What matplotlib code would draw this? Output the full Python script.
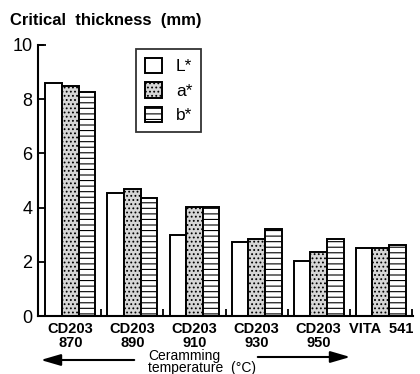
import numpy as np
import matplotlib
matplotlib.use('Agg')
import matplotlib.pyplot as plt

plt.rcParams['font.family'] = ['Liberation Sans', 'DejaVu Sans']
plt.rcParams['hatch.linewidth'] = 0.8

groups = ['CD203\n870', 'CD203\n890', 'CD203\n910', 'CD203\n930', 'CD203\n950', 'VITA  541']
L_star = [8.6, 4.55, 3.0, 2.73, 2.03, 2.5]
a_star = [8.5, 4.7, 4.03, 2.84, 2.36, 2.5]
b_star = [8.25, 4.35, 4.03, 3.2, 2.84, 2.63]

fig = plt.figure(figsize=(4.2, 3.74), dpi=100)
ax = fig.add_axes([0.0905, 0.155, 0.893, 0.725])

x = np.arange(len(groups))
w = 0.268
kw = dict(width=w, edgecolor='black', linewidth=1.4)
ax.bar(x - w, L_star, facecolor='white', label='L*', **kw)
ax.bar(x, a_star, facecolor='#d6d6d6', hatch='....', label='a*', **kw)
ax.bar(x + w, b_star, facecolor='white', hatch='---', label='b*', **kw)

ax.set_xlim(-0.52, 5.52)
ax.set_ylim(0, 10)
ax.set_yticks([0, 2, 4, 6, 8, 10])
ax.tick_params(axis='y', direction='in', length=6, width=1.3, labelsize=13, pad=4)
ax.set_xticks(x)
ax.set_xticklabels(groups, fontsize=10.5, fontweight='bold', linespacing=1.0)
ax.tick_params(axis='x', length=0, pad=4)
ax.set_xticks(x + 0.5, minor=True)
ax.tick_params(axis='x', which='minor', direction='in', length=5, width=1.3)

for s in ['top', 'right']:
    ax.spines[s].set_visible(False)
for s in ['left', 'bottom']:
    ax.spines[s].set_linewidth(1.5)
# small tick at top of y axis
ax.plot([-0.52, -0.44], [10, 10], color='black', lw=1.3, clip_on=False)

leg = ax.legend(loc='upper left', bbox_to_anchor=(0.261, 0.985), borderaxespad=0,
                fancybox=False, edgecolor='black', fontsize=12.5, handlelength=1.0,
                handleheight=1.0, handletextpad=0.8, labelspacing=0.45, borderpad=0.5)
leg.get_frame().set_linewidth(1.3)

fig.text(10 / 420, 1 - 20 / 374, 'Critical  thickness  (mm)', fontsize=12,
         fontweight='bold', va='center', ha='left')

ax.annotate('', xy=(38, 14), xytext=(137, 14), xycoords='figure pixels',
            textcoords='figure pixels',
            arrowprops=dict(arrowstyle='-|>,head_length=1.2,head_width=0.35',
                            color='black', lw=1.5))
ax.annotate('', xy=(353, 17), xytext=(255, 17), xycoords='figure pixels',
            textcoords='figure pixels',
            arrowprops=dict(arrowstyle='-|>,head_length=1.2,head_width=0.35',
                            color='black', lw=1.5))
fig.text(148 / 420, 1 - 349 / 374, 'Ceramming\ntemperature  (°C)', fontsize=10,
         ha='left', va='top', linespacing=0.85)

fig.savefig('out.png', dpi=100)
